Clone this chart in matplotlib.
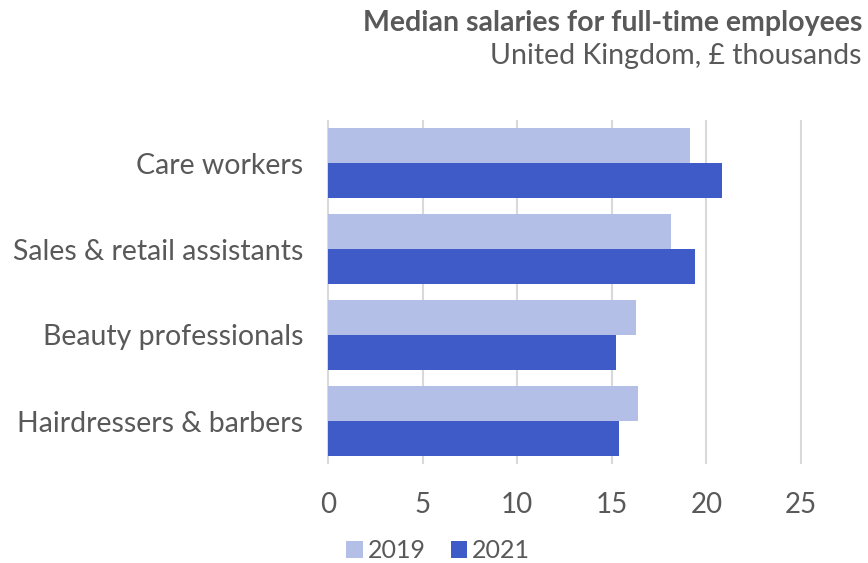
import matplotlib.pyplot as plt
import numpy as np

plt.rcParams['font.family'] = ['Lato', 'DejaVu Sans']

categories = ['Care workers', 'Sales & retail assistants',
              'Beauty professionals', 'Hairdressers & barbers']
salary_2019 = [19.15, 18.15, 16.3, 16.4]
salary_2021 = [20.8, 19.4, 15.2, 15.4]

light = '#b4bfe8'
dark = '#3f5bc8'
text_col = '#595959'
grid_col = '#d9d9d9'

fig = plt.figure(figsize=(8.68, 5.63), dpi=100)
ax = fig.add_axes([327 / 868, 1 - 464 / 563, (802 - 327) / 868, (464 - 120) / 563])

y = np.arange(len(categories))
h = 0.405
ax.barh(y - h / 2, salary_2019, height=h, color=light, label='2019', zorder=3)
ax.barh(y + h / 2, salary_2021, height=h, color=dark, label='2021', zorder=3)

ax.set_ylim(len(categories) - 0.5, -0.5)
ax.set_xticks([0, 5, 10, 15, 20, 25])
ax.set_yticks(y)
ax.set_yticklabels(categories)
ax.set_xlim(-0.05, 25.05)

ax.grid(axis='x', color=grid_col, linewidth=1.5, zorder=0)
for s in ax.spines.values():
    s.set_visible(False)
ax.tick_params(axis='y', length=0, pad=17, labelsize=20.5, labelcolor=text_col)
ax.tick_params(axis='x', length=0, pad=20, labelsize=20, labelcolor=text_col)

fig.text(862 / 868, 1 - 23 / 563, 'Median salaries for full-time employees',
         ha='right', va='center', fontsize=20.5, fontweight='bold', color=text_col)
fig.text(862 / 868, 1 - 56 / 563, 'United Kingdom, £ thousands',
         ha='right', va='center', fontsize=20.5, color=text_col)

fig.legend(loc='center', bbox_to_anchor=(438 / 868, 1 - 551 / 563), ncol=2,
           frameon=False, fontsize=18, labelcolor=text_col,
           handlelength=0.65, handleheight=0.65, handletextpad=0.2,
           columnspacing=1.0)

fig.savefig('out.png', dpi=100)
